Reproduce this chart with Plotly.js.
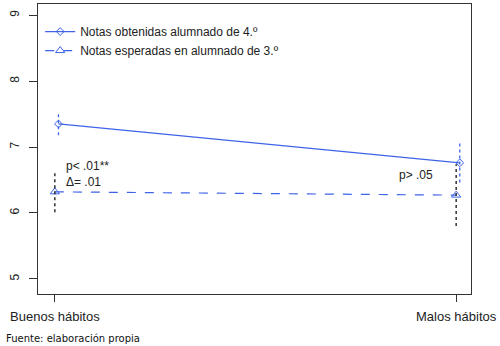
<!DOCTYPE html>
<html><head><meta charset="utf-8">
<script src="https://cdn.plot.ly/plotly-3.0.1.min.js"></script>
<style>body{margin:0;background:#fff}#chart{width:500px;height:346px}</style>
</head><body><div id="chart"></div>
<script>
const categories = ["Buenos hábitos", "Malos hábitos"];
const obtenidas = [7.35, 6.76];
const obtenidasErr = [0.17, 0.30];
const esperadas = [6.32, 6.27];
const esperadasErr = [0.31, 0.47];
const seriesNames = ["Notas obtenidas alumnado de 4.º", "Notas esperadas en alumnado de 3.º"];
const yTicks = [5, 6, 7, 8, 9];

const blue = "#3f63e6";
const idx = categories.map((c, i) => i);
const dodgeA = 0.009, dodgeB = 0;
const xa = idx.map(i => i + dodgeA);
const xb = idx.map(i => i + dodgeB);

function errPath(xs, ys, es) {
  const X = [], Y = [];
  xs.forEach((x, i) => { X.push(x, x, null); Y.push(ys[i] - es[i], ys[i] + es[i], null); });
  return {X, Y};
}
const ea = errPath(xa, obtenidas, obtenidasErr);
const eb = errPath(xb, esperadas, esperadasErr);

const traces = [
  {x: xa, y: obtenidas, name: seriesNames[0], type: "scatter", mode: "lines+markers",
   line: {color: blue, width: 1.2}, marker: {symbol: "diamond-open", size: 6, color: blue, line: {width: 1}}},
  {x: xb, y: esperadas, name: seriesNames[1], type: "scatter", mode: "lines+markers",
   line: {color: blue, width: 1.2, dash: "dash"}, marker: {symbol: "triangle-up-open", size: 8, color: blue, line: {width: 1}}},
  {x: ea.X, y: ea.Y, type: "scatter", mode: "lines", showlegend: false, hoverinfo: "skip",
   line: {color: blue, width: 1.3, dash: "dot"}},
  {x: eb.X, y: eb.Y, type: "scatter", mode: "lines", showlegend: false, hoverinfo: "skip",
   line: {color: "#111", width: 1.3, dash: "dot"}}
];

const layout = {
  width: 500, height: 346,
  margin: {l: 38, r: 29, t: 4, b: 52},
  paper_bgcolor: "#fff", plot_bgcolor: "#fff",
  font: {family: "Liberation Sans, Arial, sans-serif", size: 12, color: "#222"},
  showlegend: true,
  legend: {x: 0.005, y: 0.955, xanchor: "left", yanchor: "top", bgcolor: "rgba(0,0,0,0)",
    font: {size: 12, color: "#222"}, tracegroupgap: 0, itemwidth: 30},
  xaxis: {range: [-0.042, 1.037], tickvals: idx, ticktext: categories, showgrid: false, zeroline: false,
    ticks: "outside", ticklen: 7, tickcolor: "#333", tickfont: {size: 13, color: "#222"}, ticklabelstandoff: 3,
    showline: true, mirror: true, linecolor: "#333", linewidth: 1},
  yaxis: {range: [4.77, 9.17], tickvals: yTicks, tickangle: -90, showgrid: false, zeroline: false,
    ticks: "outside", ticklen: 8, tickcolor: "#333", tickfont: {size: 12, color: "#222"}, ticklabelstandoff: 5,
    showline: true, mirror: true, linecolor: "#333", linewidth: 1},
  annotations: [
    {xref: "x", yref: "y", x: idx[0] + 0.022, y: 6.59, text: "p< .01**<br>Δ= .01", showarrow: false,
     xanchor: "left", yanchor: "middle", align: "left", font: {size: 12, color: "#222"}},
    {xref: "x", yref: "y", x: idx[1] - 0.148, y: 6.58, text: "p> .05", showarrow: false,
     xanchor: "left", yanchor: "middle", font: {size: 12, color: "#222"}},
    {xref: "paper", yref: "paper", x: -0.078, y: -0.128, xanchor: "left", yanchor: "top",
     text: "Fuente: elaboración propia", showarrow: false, font: {family: "DejaVu Sans", size: 10, color: "#111"}}
  ]
};
Plotly.newPlot("chart", traces, layout, {displayModeBar: false, staticPlot: true});
</script></body></html>
